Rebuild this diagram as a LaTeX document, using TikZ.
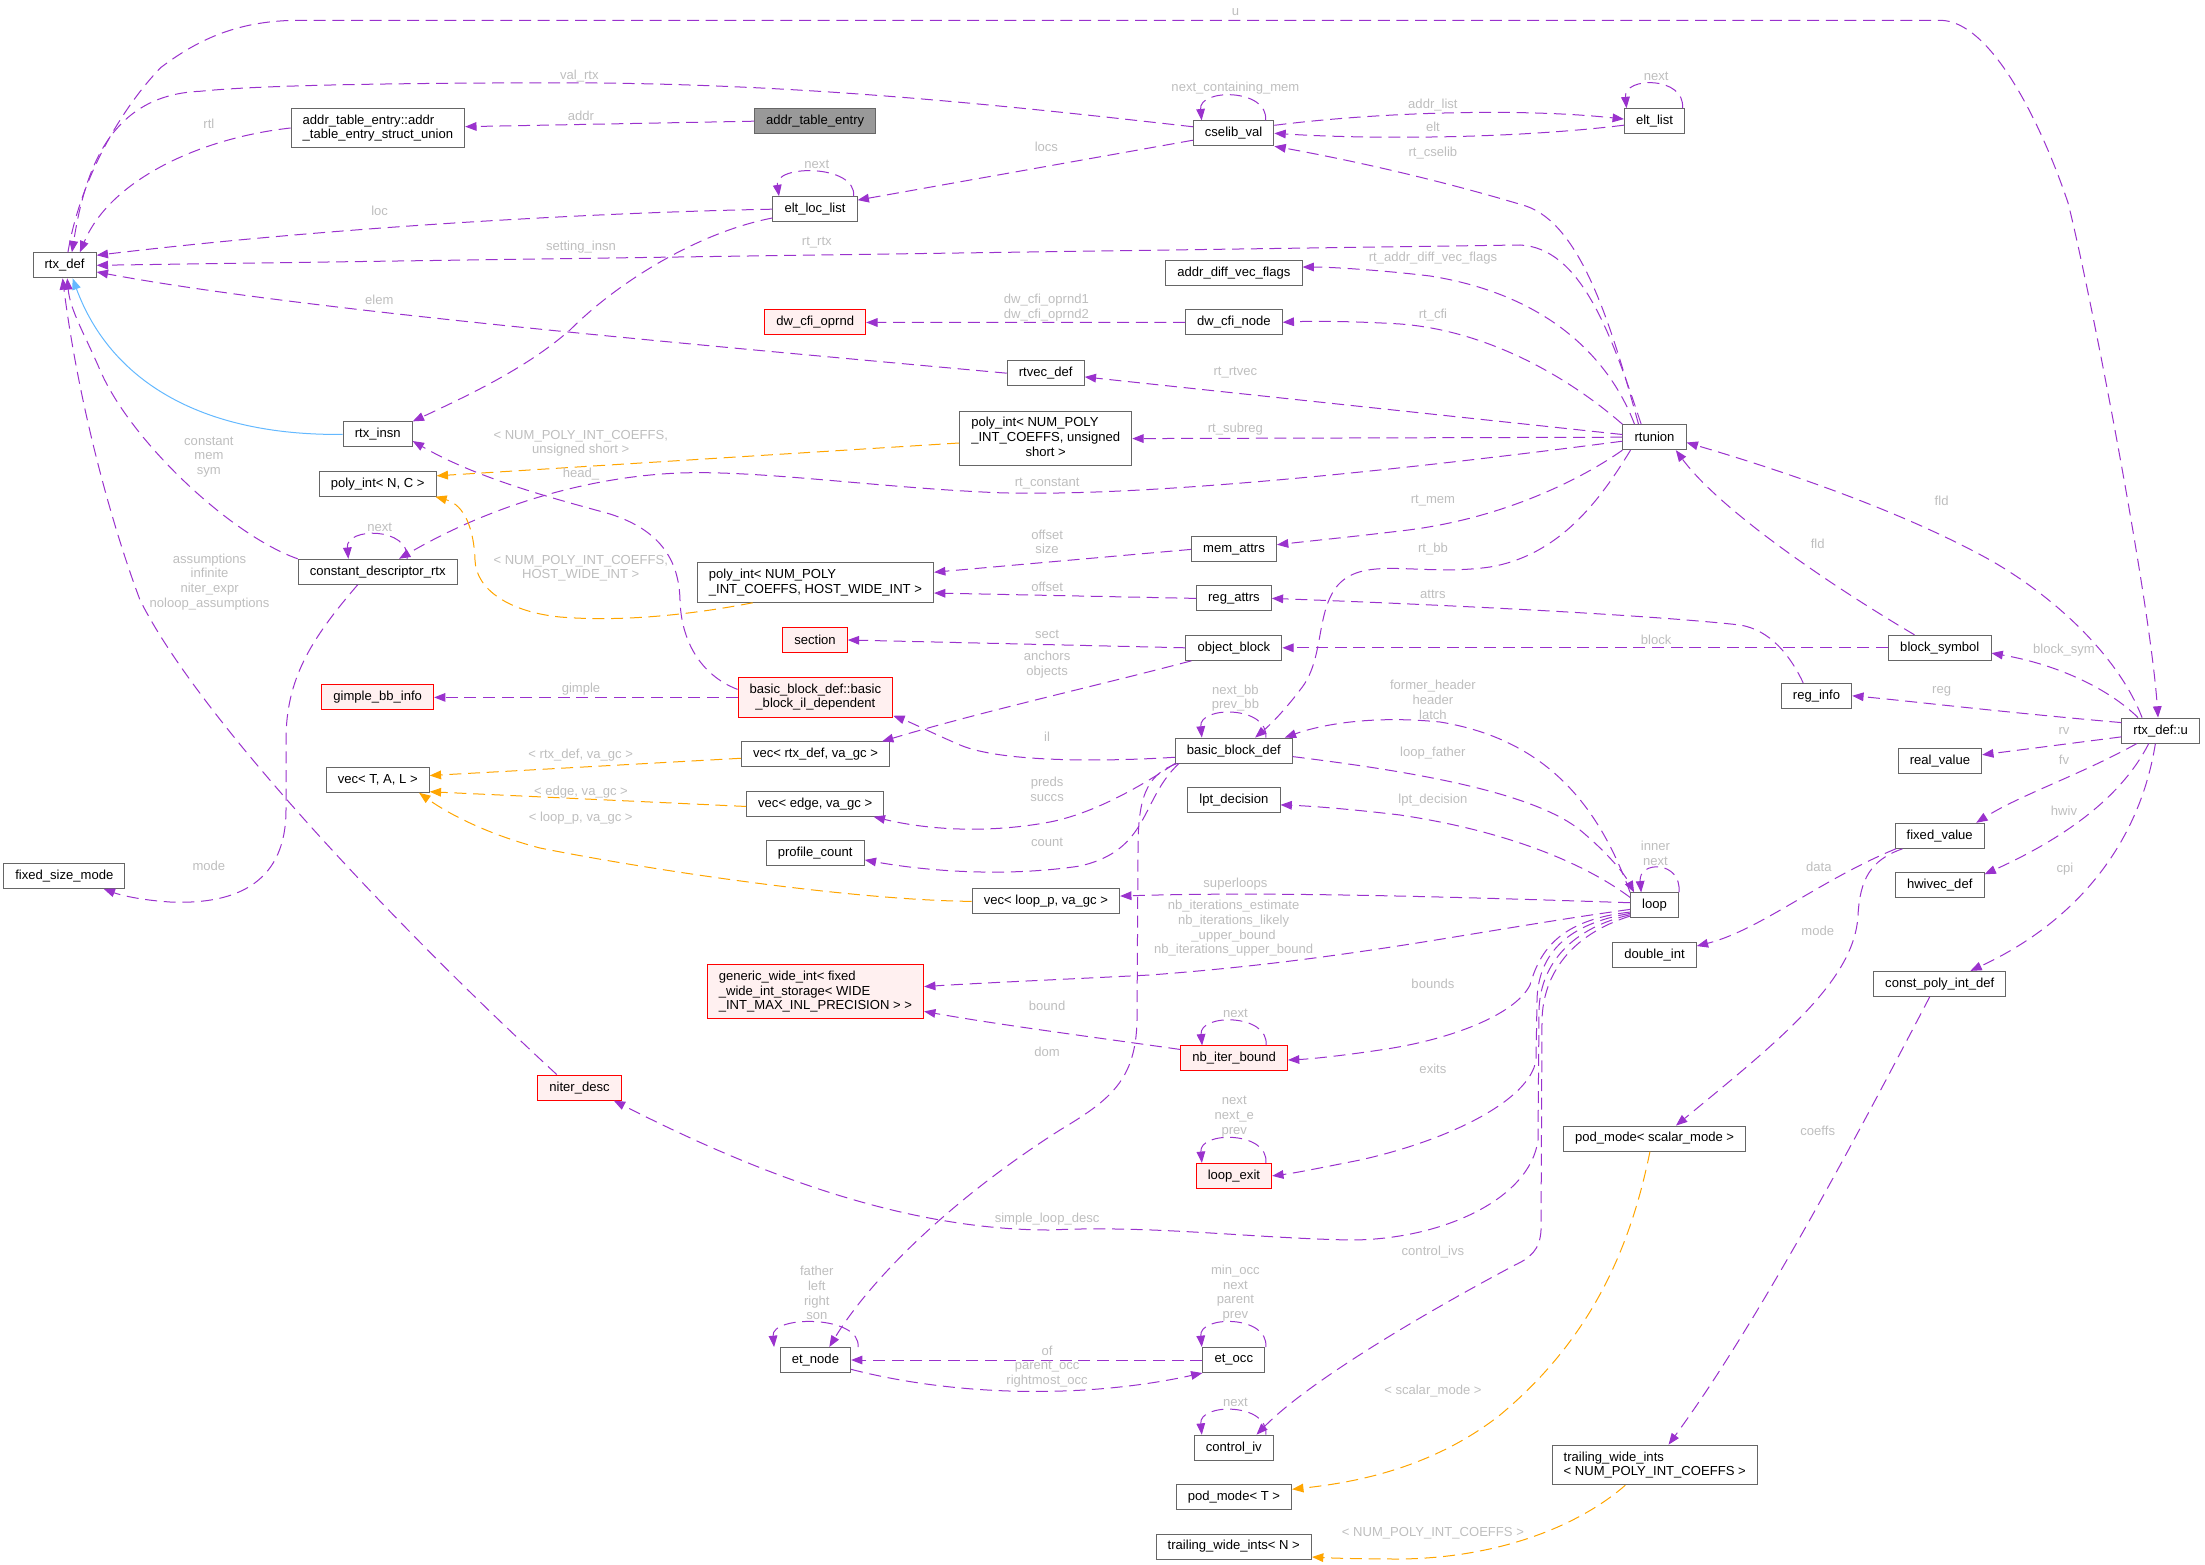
\documentclass[tikz,border=0pt]{standalone}
\usepackage{fontspec}
\setmainfont{Liberation Sans}
\usepackage{tikz}
\usetikzlibrary{arrows.meta}
\definecolor{usepurple}{HTML}{9A32CD}
\definecolor{tmplorange}{HTML}{FFA500}
\definecolor{inhblue}{HTML}{63B8FF}
\definecolor{nodegray}{HTML}{666666}
\definecolor{nodered}{HTML}{FF0000}
\definecolor{hlgray}{HTML}{999999}
\definecolor{redfill}{HTML}{FFF0F0}
\definecolor{lblgray}{HTML}{BEBEBE}
\newcommand\dxfont{\fontsize{9.8}{11}\selectfont}
\newcommand\lastc[1]{\multicolumn{1}{@{}c@{}}{#1}}
\tikzset{
  cls/.style={rectangle,draw=nodegray,fill=white,line width=0.75pt,
    inner xsep=8.7pt,inner ysep=4.8pt,minimum height=18.75pt,
    font=\dxfont,align=left},
  clsred/.style={cls,draw=nodered,fill=redfill},
  clshl/.style={cls,fill=hlgray},
  uses/.style={draw=usepurple,line width=0.75pt,dash pattern=on 9pt off 5pt,
    -{Triangle[length=8.5pt,width=6.5pt]}},
  tmpl/.style={uses,draw=tmplorange},
  inh/.style={draw=inhblue,line width=0.75pt,-{Triangle[length=8.5pt,width=6.5pt]}},
  lbl/.style={font=\dxfont,text=lblgray,inner sep=0pt,align=center},
}
\begin{document}
\begin{tikzpicture}[x=0.75pt,y=-0.75pt]
\useasboundingbox (0,0) rectangle (2205,1565);

% classes, column by column
\node[cls] (rtxdef) at (64.6,265.3) {rtx\_def};
\node[cls] (fsm) at (64.3,875.8) {fixed\_size\_mode};

\node[cls] (atesu) at (377.9,128) {addr\_table\_entry::addr\\\_table\_entry\_struct\_union};
\node[cls] (rtxinsn) at (377.7,434.4) {rtx\_insn};
\node[cls] (polync) at (377.7,483.7) {poly\_int< N, C >};
\node[cls] (cdrtx) at (377.7,571.8) {constant\_descriptor\_rtx};
\node[clsred] (gimple) at (377.7,697.4) {gimple\_bb\_info};
\node[cls] (vectal) at (377.7,779.8) {vec< T, A, L >};
\node[clsred] (niter) at (579.5,1087.6) {niter\_desc};

\node[clshl] (ate) at (815.2,121.2) {addr\_table\_entry};
\node[cls] (eltloc) at (815,209.2) {elt\_loc\_list};
\node[clsred] (dwop) at (815.2,322.5) {dw\_cfi\_oprnd};
\node[cls] (polyhwi) at (815.4,582.5) {poly\_int< NUM\_POLY\\\_INT\_COEFFS, HOST\_WIDE\_INT >};
\node[clsred] (section) at (815,640) {section};
\node[clsred,inner ysep=3.9pt] (bbil) at (815.4,697.4) {\begin{tabular}{@{}l@{}}basic\_block\_def::basic\\\lastc{\_block\_il\_dependent}\end{tabular}};
\node[cls] (vecrtx) at (815.5,754.4) {vec< rtx\_def, va\_gc >};
\node[cls] (vecedge) at (815.2,803.8) {vec< edge, va\_gc >};
\node[cls] (profile) at (815.2,853.4) {profile\_count};
\node[clsred] (gwi) at (815.4,991.8) {generic\_wide\_int< fixed\\\_wide\_int\_storage< WIDE\\\_INT\_MAX\_INL\_PRECISION > >};
\node[cls] (etnode) at (815.4,1360) {et\_node};

\node[cls] (rtvec) at (1045.7,373.2) {rtvec\_def};
\node[cls,inner ysep=3.9pt] (polyus) at (1045.7,438.6) {\begin{tabular}{@{}l@{}}poly\_int< NUM\_POLY\\\_INT\_COEFFS, unsigned\\\lastc{short >}\end{tabular}};
\node[cls] (veclp) at (1045.9,901.4) {vec< loop\_p, va\_gc >};

\node[cls] (cselib) at (1233.6,133.3) {cselib\_val};
\node[cls] (advf) at (1233.9,273.3) {addr\_diff\_vec\_flags};
\node[cls] (dwnode) at (1233.9,322.3) {dw\_cfi\_node};
\node[cls] (memattrs) at (1234,549.4) {mem\_attrs};
\node[cls] (regattrs) at (1233.9,598.4) {reg\_attrs};
\node[cls] (objblock) at (1233.9,647.8) {object\_block};
\node[cls] (bbdef) at (1233.8,750.6) {basic\_block\_def};
\node[cls] (lpt) at (1233.9,799.8) {lpt\_decision};
\node[clsred] (nbiter) at (1234.1,1058.4) {nb\_iter\_bound};
\node[clsred] (loopexit) at (1233.9,1175.9) {loop\_exit};
\node[cls] (etocc) at (1233.8,1360) {et\_occ};
\node[cls] (controliv) at (1233.8,1447.7) {control\_iv};
\node[cls] (podt) at (1233.9,1497.4) {pod\_mode< T >};
\node[cls] (twin) at (1233.8,1546.6) {trailing\_wide\_ints< N >};

\node[cls] (eltlist) at (1654.5,121.2) {elt\_list};
\node[cls] (rtunion) at (1654.5,437.2) {rtunion};
\node[cls] (loop) at (1654.5,905.4) {loop};
\node[cls] (dblint) at (1654.5,954.6) {double\_int};
\node[cls] (podsm) at (1654.6,1138.6) {pod\_mode< scalar\_mode >};
\node[cls] (twinum) at (1654.7,1464.9) {trailing\_wide\_ints\\< NUM\_POLY\_INT\_COEFFS >};

\node[cls] (reginfo) at (1816.5,695.8) {reg\_info};
\node[cls] (blocksym) at (1939.8,647.8) {block\_symbol};
\node[cls] (realval) at (1939.9,761.2) {real\_value};
\node[cls] (fixedval) at (1939.7,835.8) {fixed\_value};
\node[cls] (hwivec) at (1939.7,885.3) {hwivec\_def};
\node[cls] (cpid) at (1939.7,983.9) {const\_poly\_int\_def};
\node[cls] (rtxu) at (2160.7,730.6) {rtx\_def::u};

% rtx_def and its neighbours
\draw[uses] ([xshift=2.5pt]rtxdef.north) .. controls (80,180) and (120,110) .. (160.7,67.6) .. controls (200,38) and (240,20.3) .. (300,20.3) -- (1940,20.3) .. controls (1990,20.3) and (2040,120) .. (2068,202.8) .. controls (2090,290) and (2150,600) .. ([xshift=-2pt]rtxu.north);
\draw[uses] ([yshift=4.9pt]cselib.west) .. controls (1000,105) and (800,83) .. (560,82.8) .. controls (400,83) and (260,85) .. (200,91.3) .. controls (110,95) and (85,170) .. ([xshift=5.5pt]rtxdef.north);
\draw[uses] (atesu.west) .. controls (200,138) and (110,180) .. ([xshift=11.5pt]rtxdef.north);
\draw[uses] (ate.west) -- ([yshift=1pt]atesu.east);
\draw[uses] ([yshift=-5.2pt]cselib.west) -- ([yshift=6.8pt]eltloc.east);
\draw[uses] ([xshift=29pt]eltloc.north) .. controls +(3,-32) and +(-5,-32) .. ([xshift=-27pt]eltloc.north);
\draw[uses] (eltloc.west) .. controls (620,212) and (350,225) .. ([yshift=7.5pt]rtxdef.east);
\draw[uses] ([yshift=-6.6pt]eltloc.west) .. controls (700,232) and (620,280) .. (570,330) .. controls (530,365) and (480,390) .. (rtxinsn.north east);
\draw[uses] ([xshift=-10pt]rtunion.north) .. controls (1610,330) and (1580,248) .. (1520,245) -- (rtxdef.east);
\draw[uses] (rtvec.west) .. controls (700,345) and (300,310) .. ([yshift=-5pt]rtxdef.east);
\draw[inh] (rtxinsn.west) .. controls (200,436) and (110,380) .. ([xshift=6pt]rtxdef.south);
\draw[uses] (dwnode.west) -- (dwop.east);
\draw[uses] (cdrtx.north west) .. controls (230,535) and (130,440) .. (100,370) .. controls (85,335) and (70,310) .. ([xshift=2pt]rtxdef.south);
\draw[uses] ([xshift=-17pt]niter.north) .. controls (400,930) and (200,720) .. (140,600) .. controls (110,520) and (78,400) .. ([xshift=-1.5pt]rtxdef.south);
\draw[uses] ([xshift=22pt]cdrtx.north) .. controls +(3,-32) and +(-3,-32) .. ([xshift=-22pt]cdrtx.north);
\draw[uses] ([xshift=-15pt]cdrtx.south) .. controls (310,640) and (286,680) .. (286,740) -- (286,810) .. controls (286,880) and (240,905) .. (170,902) .. controls (140,900) and (120,895) .. ([xshift=29.5pt]fsm.south);

% cselib_val and elt_list
\draw[uses] ([xshift=24pt]cselib.north) .. controls +(3,-32) and +(-3,-32) .. ([xshift=-24pt]cselib.north);
\draw[uses] ([yshift=6pt]cselib.east) .. controls (1380,112) and (1520,108) .. ([yshift=1.6pt]eltlist.west);
\draw[uses] ([yshift=-3pt]eltlist.west) .. controls (1520,138) and (1380,140) .. (cselib.east);
\draw[uses] ([xshift=21pt]eltlist.north) .. controls +(3,-32) and +(-3,-32) .. ([xshift=-21pt]eltlist.north);

% rtunion
\draw[uses] ([xshift=-12pt]rtunion.north) .. controls (1610,320) and (1580,225) .. (1526.4,206.2) .. controls (1440,180) and (1350,160) .. (cselib.south east);
\draw[uses] ([xshift=-15pt]rtunion.north) .. controls (1610,360) and (1550,295) .. (1430,276) .. controls (1380,270) and (1330,267) .. ([yshift=4.7pt]advf.east);
\draw[uses] (rtunion.north west) .. controls (1560,370) and (1480,330) .. (1400,324) .. controls (1350,321) and (1310,321) .. (dwnode.east);
\draw[uses] ([yshift=2pt]rtunion.west) -- ([yshift=-2.8pt]rtvec.east);
\draw[uses] (rtunion.west) -- (polyus.east);
\draw[uses] ([yshift=-3pt]rtunion.west) .. controls (1400,470) and (1150,497) .. (1000,492.8) .. controls (880,488) and (760,470) .. (680,473) .. controls (600,476) and (500,500) .. ([xshift=16pt]cdrtx.north);
\draw[uses] (rtunion.south west) .. controls (1580,480) and (1500,520) .. (1400,531) .. controls (1350,537) and (1310,541) .. ([yshift=3.5pt]memattrs.east);
\draw[uses] ([xshift=-18pt]rtunion.south) .. controls (1600,500) and (1560,555) .. (1490,567) .. controls (1420,577) and (1365,555) .. (1338,585) .. controls (1315,612) and (1325,660) .. (1300,690) .. controls (1285,710) and (1270,725) .. ([xshift=16pt]bbdef.north);

% templates
\draw[tmpl] ([yshift=-3.3pt]polyus.west) -- ([yshift=5.9pt]polync.east);
\draw[tmpl] ([xshift=-47pt]polyhwi.south) .. controls (690,615) and (620,622) .. (560,617) .. controls (510,612) and (476,590) .. (475,560) .. controls (474,530) and (465,505) .. ([xshift=-1pt]polync.south east);
\draw[tmpl] ([yshift=-2.9pt]vecrtx.west) -- ([yshift=3.2pt]vectal.east);
\draw[tmpl] ([yshift=-2pt]vecedge.west) -- ([yshift=0.8pt]vectal.south east);
\draw[tmpl] (veclp.west) .. controls (850,900) and (650,870) .. (540,848) .. controls (490,835) and (450,815) .. ([xshift=-8pt]vectal.south east);
\draw[tmpl] ([xshift=-3.5pt]podsm.south) .. controls (1630,1250) and (1590,1340) .. (1500,1415) .. controls (1430,1470) and (1350,1483) .. ([yshift=6.1pt]podt.east);
\draw[tmpl] ([xshift=-22pt]twinum.south) .. controls (1580,1525) and (1500,1558) .. (1400,1559) .. controls (1360,1559) and (1330,1558) .. ([yshift=-7.8pt]twin.east);

% attrs, blocks
\draw[uses] (memattrs.west) -- ([yshift=7.7pt]polyhwi.east);
\draw[uses] (regattrs.west) -- ([yshift=-7.9pt]polyhwi.east);
\draw[uses] (objblock.west) -- (section.east);
\draw[uses] ([xshift=4.5pt]objblock.south west) .. controls (1100,685) and (980,712) .. ([xshift=-6pt]vecrtx.north east);
\draw[uses] ([xshift=-10pt]reginfo.north) .. controls (1790,655) and (1770,630) .. (1740,625) .. controls (1650,615) and (1450,605) .. (regattrs.east);
\draw[uses] (blocksym.west) -- (objblock.east);
\draw[uses] ([xshift=-19pt]blocksym.north) .. controls (1830,585) and (1720,510) .. ([xshift=16pt]rtunion.south);

% basic blocks
\draw[uses] (bbil.west) -- (gimple.east);
\draw[uses] ([yshift=6pt]bbil.west) .. controls (700,675) and (681,640) .. (680,600) .. controls (679,560) and (660,530) .. (610,514) .. controls (560,500) and (480,480) .. ([yshift=-5pt]rtxinsn.east);
\draw[uses] ([yshift=-5pt]bbdef.west) .. controls (1100,762) and (1000,762) .. (960,745) .. controls (930,732) and (910,722) .. ([yshift=1.5pt]bbil.south east);
\draw[uses] (bbdef.south west) .. controls (1150,780) and (1100,812) .. (1050,822) .. controls (980,835) and (920,828) .. ([xshift=-8pt]vecedge.south east);
\draw[uses] ([xshift=3pt]bbdef.south west) .. controls (1140,800) and (1150,850) .. (1080,866) .. controls (1000,878) and (920,870) .. ([yshift=-4.9pt]profile.east);
\draw[uses] ([xshift=1.5pt]bbdef.south west) .. controls (1145,775) and (1138,800) .. (1138,850) -- (1137,1020) .. controls (1136,1080) and (1110,1100) .. (1060,1130) .. controls (950,1200) and (870,1280) .. ([xshift=10.4pt]etnode.north);
\draw[uses] ([xshift=24pt]bbdef.north) .. controls +(3,-32) and +(-3,-32) .. ([xshift=-24pt]bbdef.north);

% rtx_def::u
\draw[uses] ([xshift=-14pt]rtxu.north) .. controls (2120,660) and (2060,600) .. (1990,560) .. controls (1900,510) and (1780,470) .. ([yshift=-4pt]rtunion.east);
\draw[uses] ([xshift=-17pt]rtxu.north) .. controls (2110,690) and (2060,665) .. ([yshift=-4pt]blocksym.east);
\draw[uses] ([yshift=6pt]rtxu.west) .. controls (2000,712) and (1900,700) .. (reginfo.east);
\draw[uses] ([yshift=-4.7pt]rtxu.west) -- ([yshift=4.8pt]realval.east);
\draw[uses] ([xshift=-18pt]rtxu.south) .. controls (2080,775) and (2020,795) .. ([xshift=-6.5pt]fixedval.north east);
\draw[uses] ([xshift=-9pt]rtxu.south) .. controls (2120,800) and (2060,840) .. ([yshift=-1.5pt]hwivec.north east);
\draw[uses] ([xshift=-4pt]rtxu.south) .. controls (2140,840) and (2080,920) .. ([xshift=23pt]cpid.north);
\draw[uses] ([xshift=1pt]fixedval.south west) .. controls (1820,880) and (1760,930) .. ([yshift=6.4pt]dblint.east);
\draw[uses] ([xshift=6pt]fixedval.south west) .. controls (1870,860) and (1860,880) .. (1858,915) .. controls (1855,980) and (1780,1040) .. ([xshift=16pt]podsm.north);
\draw[uses] ([xshift=-7.5pt]cpid.south) .. controls (1860,1130) and (1760,1320) .. ([xshift=10.4pt]twinum.north);

% loop
\draw[uses] (loop.north west) .. controls (1600,810) and (1550,740) .. (1440,722) .. controls (1370,715) and (1320,725) .. ([xshift=-6pt]bbdef.north east);
\draw[uses] ([yshift=-4.5pt]bbdef.east) .. controls (1400,770) and (1530,790) .. (1580,830) .. controls (1610,855) and (1625,875) .. ([xshift=3pt]loop.north west);
\draw[uses] ([yshift=6pt]loop.west) .. controls (1580,860) and (1500,830) .. (1400,815) .. controls (1350,809) and (1310,806) .. ([yshift=-3.8pt]lpt.east);
\draw[uses] (loop.north east) .. controls +(3,-32) and +(-3,-32) .. ([xshift=-10pt]loop.north);
\draw[uses] ([yshift=2pt]loop.west) .. controls (1400,895) and (1250,892) .. ([yshift=4pt]veclp.east);
\draw[uses] ([yshift=-3pt]loop.west) .. controls (1480,930) and (1350,960) .. (1150,975) .. controls (1050,980) and (980,983) .. ([yshift=3.9pt]gwi.east);
\draw[uses] ([yshift=6.7pt]nbiter.west) .. controls (1100,1038) and (1000,1025) .. ([yshift=-14.7pt]gwi.east);
\draw[uses] ([xshift=24pt]nbiter.north) .. controls +(3,-32) and +(-3,-32) .. ([xshift=-24pt]nbiter.north);
\draw[uses] ([yshift=-5pt]loop.west) .. controls (1560,920) and (1540,950) .. (1530,985) .. controls (1515,1015) and (1450,1040) .. (1380,1050) .. controls (1340,1056) and (1310,1059) .. ([yshift=-1.2pt]nbiter.east);
\draw[uses] ([yshift=-6pt]loop.west) .. controls (1560,925) and (1538,960) .. (1537,1000) -- (1536,1060) .. controls (1530,1100) and (1450,1140) .. (1360,1160) .. controls (1320,1168) and (1295,1173) .. (loopexit.east);
\draw[uses] ([xshift=24pt]loopexit.north) .. controls +(3,-32) and +(-3,-32) .. ([xshift=-24pt]loopexit.north);
\draw[uses] ([yshift=-7pt]loop.west) .. controls (1565,930) and (1540,970) .. (1539,1010) -- (1538,1140) .. controls (1530,1200) and (1440,1240) .. (1350,1240) .. controls (1250,1238) and (1150,1225) .. (1050,1230) .. controls (900,1230) and (750,1170) .. ([xshift=-6pt]niter.south east);
\draw[uses] ([yshift=-8pt]loop.west) .. controls (1570,935) and (1543,975) .. (1542,1020) -- (1541,1230) .. controls (1540,1250) and (1530,1258) .. (1515,1265) .. controls (1430,1310) and (1310,1380) .. ([xshift=17pt]controliv.north);
\draw[uses] ([xshift=24pt]controliv.north) .. controls +(3,-32) and +(-3,-32) .. ([xshift=-24pt]controliv.north);

% et tree
\draw[uses] ([xshift=24pt]etocc.north) .. controls +(3,-32) and +(-3,-32) .. ([xshift=-24pt]etocc.north);
\draw[uses] ([xshift=32pt]etnode.north) .. controls +(3,-32) and +(-3,-32) .. ([xshift=-31pt]etnode.north);
\draw[uses] (etocc.west) -- (etnode.east);
\draw[uses] ([yshift=-7pt]etnode.east) .. controls (950,1395) and (1080,1400) .. (etocc.south west);

% edge labels
\node[lbl] (lu) at (1235.4,11.8) {u};
\node[lbl] (lvalrtx) at (579.3,76) {val\_rtx};
\node[lbl] (lrtl) at (208.9,124) {rtl};
\node[lbl] (laddr) at (581,116) {addr};
\node[lbl] (llocs) at (1046.4,146.4) {locs};
\node[lbl] (lnextloc) at (816.8,164.6) {next};
\node[lbl] (lloc) at (379.6,210.6) {loc};
\node[lbl] (lsetinsn) at (581,246.8) {setting\_insn};
\node[lbl] (lrtrtx) at (816.8,242.4) {rt\_rtx};
\node[lbl] (lelem) at (379.3,299.8) {elem};
\node[lbl] (loprnd) at (1046.4,307.3) {dw\_cfi\_oprnd1\\dw\_cfi\_oprnd2};
\node[lbl] (lncm) at (1235.4,88.6) {next\_containing\_mem};
\node[lbl] (laddrlist) at (1432.9,104.8) {addr\_list};
\node[lbl] (lelt) at (1432.9,126.8) {elt};
\node[lbl] (lrtcselib) at (1432.9,153.1) {rt\_cselib};
\node[lbl] (lnextlist) at (1656.2,76.7) {next};
\node[lbl] (lradvf) at (1432.9,258.6) {rt\_addr\_diff\_vec\_flags};
\node[lbl] (lrtcfi) at (1432.9,314.7) {rt\_cfi};
\node[lbl] (lrtrtvec) at (1235.4,372.8) {rt\_rtvec};
\node[lbl] (lrtsubreg) at (1235.4,429.3) {rt\_subreg};
\node[lbl] (lrtconst) at (1047.1,484) {rt\_constant};
\node[lbl] (lhead) at (581,474.2) {head\_};
\node[lbl] (ltus) at (580.7,443.3) {< NUM\_POLY\_INT\_COEFFS,\\unsigned short >};
\node[lbl] (lcms) at (208.9,457) {constant\\mem\\sym};
\node[lbl] (lnextcd) at (379.6,526.9) {next};
\node[lbl] (lassum) at (209.6,581.7) {assumptions\\infinite\\niter\_expr\\noloop\_assumptions};
\node[lbl] (lthwi) at (580.7,568.4) {< NUM\_POLY\_INT\_COEFFS,\\HOST\_WIDE\_INT >};
\node[lbl] (loffsize) at (1047.1,541.7) {offset\\size};
\node[lbl] (loffset) at (1047.1,586.4) {offset};
\node[lbl] (lsect) at (1047.1,634.7) {sect};
\node[lbl] (lanch) at (1047.1,664.3) {anchors\\objects};
\node[lbl] (lgimple) at (581,689.1) {gimple};
\node[lbl] (lil) at (1047.1,736.9) {il};
\node[lbl] (ltrtx) at (580.7,754.8) {< rtx\_def, va\_gc >};
\node[lbl] (ltedge) at (581,792) {< edge, va\_gc >};
\node[lbl] (ltloop) at (580.7,818.6) {< loop\_p, va\_gc >};
\node[lbl] (lpreds) at (1047.1,789.6) {preds\\succs};
\node[lbl] (lcount) at (1047.1,842.7) {count};
\node[lbl] (lmodefsm) at (208.9,866.1) {mode};
\node[lbl] (lrtmem) at (1432.9,500.9) {rt\_mem};
\node[lbl] (lrtbb) at (1432.9,548.9) {rt\_bb};
\node[lbl] (lattrs) at (1432.9,594) {attrs};
\node[lbl] (lblock) at (1656.2,639.5) {block};
\node[lbl] (lfldbs) at (1817.7,543.7) {fld};
\node[lbl] (lfldu) at (1941.6,500.9) {fld};
\node[lbl] (lnextbb) at (1235.4,698) {next\_bb\\prev\_bb};
\node[lbl] (lheader) at (1432.9,699.8) {former\_header\\header\\latch};
\node[lbl] (lfather) at (1432.9,753.1) {loop\_father};
\node[lbl] (llpt) at (1432.9,800.6) {lpt\_decision};
\node[lbl] (lsuper) at (1235.4,884) {superloops};
\node[lbl] (lnbit) at (1233.6,928.4) {nb\_iterations\_estimate\\nb\_iterations\_likely\\\_upper\_bound\\nb\_iterations\_upper\_bound};
\node[lbl] (linner) at (1655.4,853) {inner\\next};
\node[lbl] (lblocksym) at (2064,650.5) {block\_sym};
\node[lbl] (lreg) at (1941.6,691.1) {reg};
\node[lbl] (lrv) at (2064,730.7) {rv};
\node[lbl] (lfv) at (2064,760) {fv};
\node[lbl] (lhwiv) at (2064,810.6) {hwiv};
\node[lbl] (lcpi) at (2065,869.2) {cpi};
\node[lbl] (ldata) at (1818.9,866.8) {data};
\node[lbl] (lmodefv) at (1817.7,930.5) {mode};
\node[lbl] (lbounds) at (1432.9,983.9) {bounds};
\node[lbl] (lnextnb) at (1235.4,1013.8) {next};
\node[lbl] (lbound) at (1047.1,1006.3) {bound};
\node[lbl] (ldom) at (1047.1,1052) {dom};
\node[lbl] (lexits) at (1432.9,1069) {exits};
\node[lbl] (lnextexit) at (1234.3,1116.5) {next\\next\_e\\prev};
\node[lbl] (lsimple) at (1047.1,1218.8) {simple\_loop\_desc};
\node[lbl] (lcivs) at (1432.9,1251.8) {control\_ivs};
\node[lbl] (lnextocc) at (1235.4,1293) {min\_occ\\next\\parent\\prev};
\node[lbl] (lfamily) at (816.8,1293) {father\\left\\right\\son};
\node[lbl] (lof) at (1047.1,1366.6) {of\\parent\_occ\\rightmost\_occ};
\node[lbl] (lnextciv) at (1235.4,1402.7) {next};
\node[lbl] (ltscalar) at (1432.9,1391.2) {< scalar\_mode >};
\node[lbl] (lcoeffs) at (1817.7,1130.5) {coeffs};
\node[lbl] (ltnum) at (1432.9,1533) {< NUM\_POLY\_INT\_COEFFS >};
\end{tikzpicture}
\end{document}
